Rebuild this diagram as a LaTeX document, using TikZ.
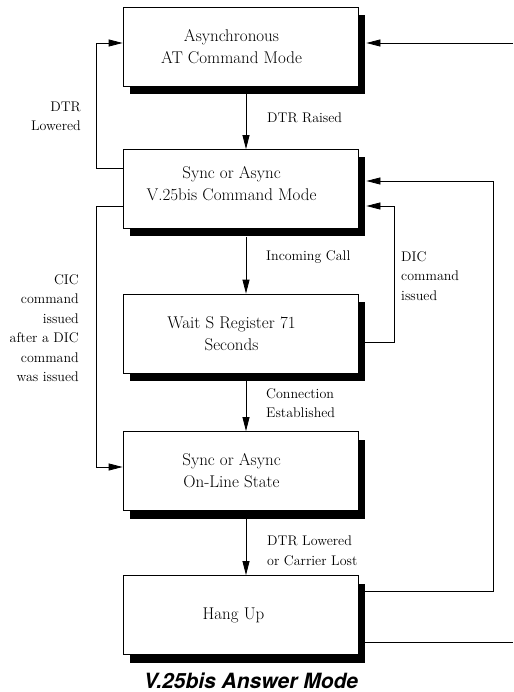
\documentclass[tikz,border=0pt]{standalone}
\usepackage{fontspec}
\newfontfamily\titlefont{TeX Gyre Heros}
\usetikzlibrary{arrows.meta,shadows}
\begin{document}
\begin{tikzpicture}[x=1pt,y=-1pt,
  box/.style={draw=black, line width=0.8pt, fill=white, minimum width=235pt, minimum height=79pt, inner sep=0pt,
    drop shadow={shadow xshift=7pt, shadow yshift=-8pt, fill=black, opacity=1}},
  boxtext/.style={align=center, inner sep=0pt, font=\fontsize{17}{22}\selectfont},
  lbl/.style={inner sep=0pt, font=\fontsize{14}{19.5}\selectfont},
  conn/.style={line width=0.8pt},
  arr/.style={conn, -{Triangle[length=14pt,width=7pt]}}
]
\useasboundingbox (0,0) rectangle (513,692);

% boxes
\node[box] (b1) at (240.5,46.5) {};
\node[box] (b2) at (240.5,189) {};
\node[box] (b3) at (240.5,333.5) {};
\node[box] (b4) at (240.5,471) {};
\node[box] (b5) at (240.5,615) {};

\node[boxtext] (t1) at ([xshift=-9pt]b1.center) {Asynchronous\\AT Command Mode};
\node[boxtext] (t2) at ([xshift=-9pt,yshift=5pt]b2.center) {Sync or Async\\V.25bis Command Mode};
\node[boxtext] (t3) at ([xshift=-9pt]b3.center) {Wait S Register 71\\Seconds};
\node[boxtext] (t4) at ([xshift=-9pt]b4.center) {Sync or Async\\On-Line State};
\node[boxtext] (t5) at ([xshift=-7pt]b5.center) {Hang Up};

% free ends at the right edge
\coordinate (r1) at (513,43);
\coordinate (r2) at (513,642);

% vertical arrows
\draw[arr] ([xshift=5.5pt,yshift=-8pt]b1.south) -- ([xshift=5.5pt]b2.north);
\draw[arr] ([xshift=5.5pt,yshift=-8pt]b2.south) -- ([xshift=5.5pt]b3.north);
\draw[arr] ([xshift=5.5pt,yshift=-8pt]b3.south) -- ([xshift=5.5pt]b4.north);
\draw[arr] ([xshift=5.5pt,yshift=-8pt]b4.south) -- ([xshift=5.5pt]b5.north);

% left loops
\draw[arr] ([yshift=21pt]b2.west) -- ++(-26,0) |- ([yshift=3.5pt]b1.west);
\draw[arr] ([yshift=-17pt]b2.west) -- ++(-26,0) |- ([yshift=4pt]b4.west);

% right loops
\draw[arr] ([yshift=-8.5pt]b3.east) -- ++(36,0) |- ([xshift=8pt,yshift=-17pt]b2.east);
\draw[arr] ([yshift=24pt]b5.east) -- ++(135,0) |- ([xshift=8pt,yshift=8pt]b2.east);
\draw[arr] (r1) -- ([xshift=8pt,yshift=3.5pt]b1.east);
\draw[conn] ([yshift=-27pt]b5.east) -- (r2);

% labels
\node[lbl, anchor=base west] (l1) at (267,122.5) {DTR Raised};
\node[lbl, align=right, anchor=north east] (l2) at (81,101.4) {DTR\\Lowered};
\node[lbl, anchor=base west] (l3) at (266,260.7) {Incoming Call};
\node[lbl, align=left, anchor=north west] (l4) at (401,251) {DIC\\command\\issued};
\node[lbl, align=right, anchor=north east] (l5) at (79,274.4) {CIC\\command\\issued\\after a DIC\\command\\was issued};
\node[lbl, align=left, anchor=north west] (l6) at (266,388) {Connection\\Established};
\node[lbl, align=left, anchor=north west] (l7) at (267,536) {DTR Lowered\\or Carrier Lost};

% title
\node[anchor=base, inner sep=0pt, font=\titlefont\bfseries\itshape\fontsize{21}{25}\selectfont] (title) at (251,688) {V.25bis Answer Mode};
\end{tikzpicture}
\end{document}
